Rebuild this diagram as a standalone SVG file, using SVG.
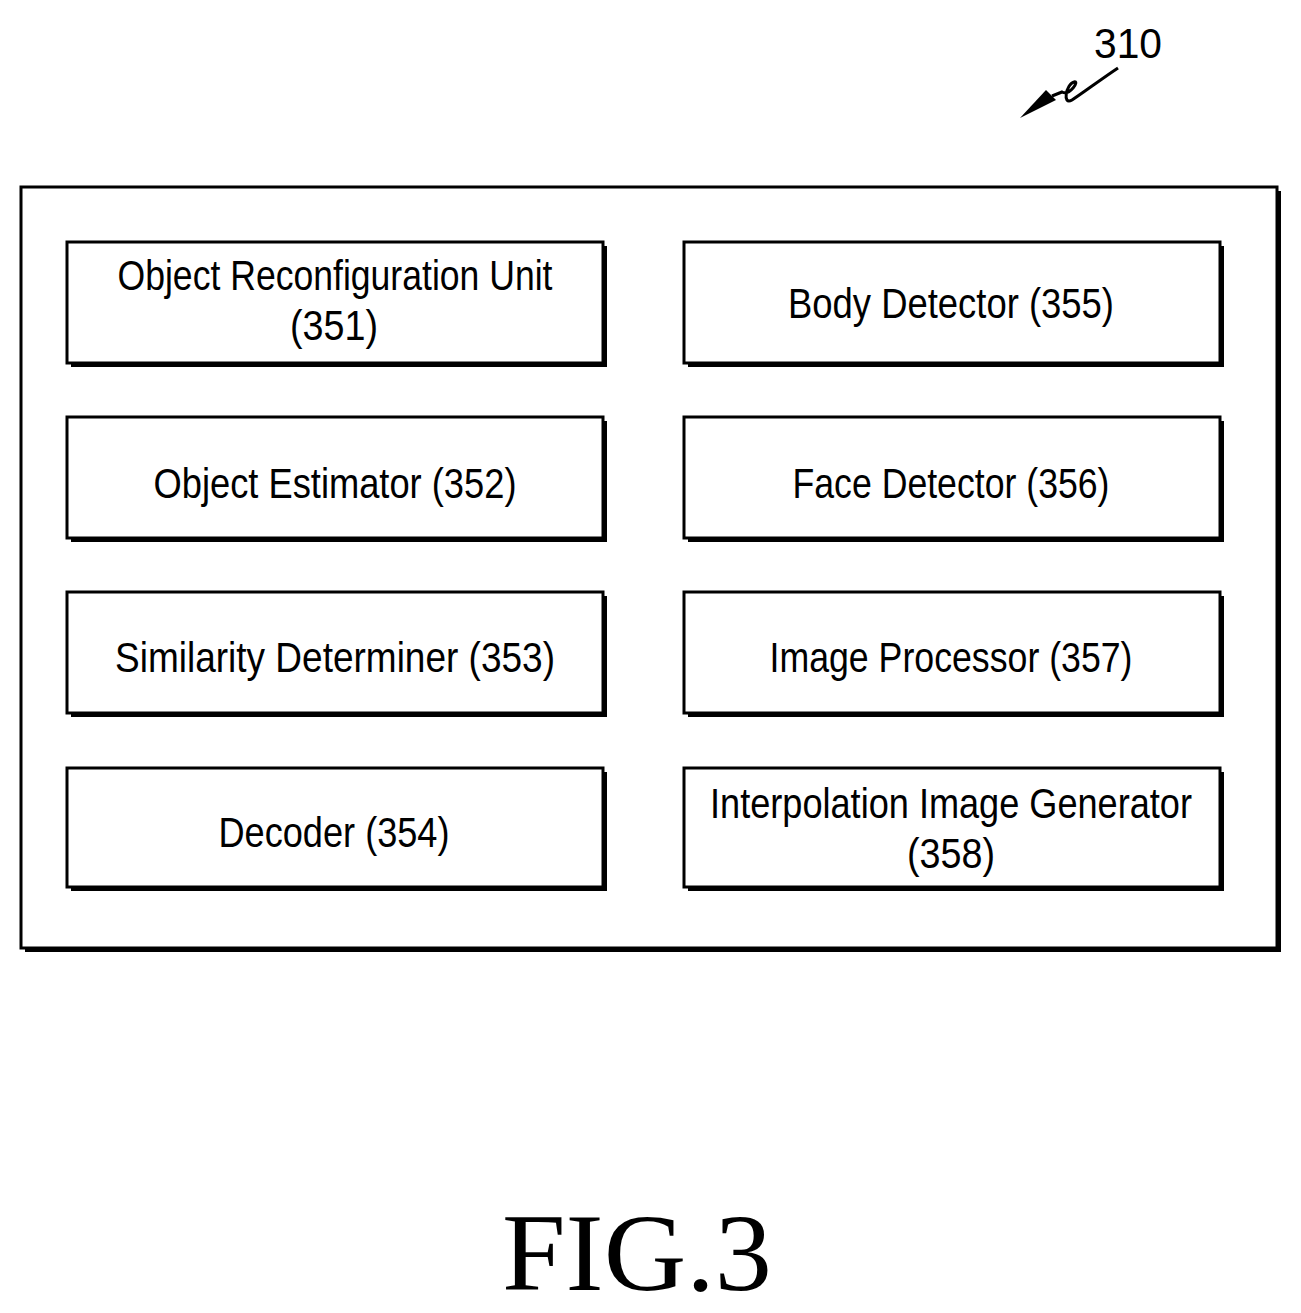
<svg xmlns="http://www.w3.org/2000/svg" width="1301" height="1313" viewBox="0 0 1301 1313">
<style>
.b{fill:#fff;stroke:#000;stroke-width:3}
.s{fill:#000}
.t{font-family:"Liberation Sans",Arial,sans-serif;font-size:42px;text-anchor:middle;fill:#000}
</style>
<rect width="1301" height="1313" fill="#fff"/>
<g id="ref310">
<text x="1128" y="58" class="t" textLength="68" lengthAdjust="spacingAndGlyphs">310</text>
<path d="M1118,68 C1100,80 1080,95 1072,100 C1062,106 1066,84 1074,82 C1080,80 1070,96 1062,92 L1052,96" fill="none" stroke="#000" stroke-width="3"/>
<polygon points="1020,118 1046,90 1056,100" fill="#000"/>
</g>
<g id="outer">
<rect x="25" y="191" width="1256" height="761" class="s"/>
<rect x="21" y="187" width="1256" height="761" class="b"/>
</g>
<g id="n351"><rect x="71" y="246" width="536" height="121" class="s"/><rect x="67" y="242" width="536" height="121" class="b"/>
<text x="335" y="290" class="t" textLength="435" lengthAdjust="spacingAndGlyphs">Object Reconfiguration Unit</text>
<text x="334" y="340" class="t" textLength="88" lengthAdjust="spacingAndGlyphs">(351)</text></g>
<g id="n352"><rect x="71" y="421" width="536" height="121" class="s"/><rect x="67" y="417" width="536" height="121" class="b"/>
<text x="335" y="498" class="t" textLength="363" lengthAdjust="spacingAndGlyphs">Object Estimator (352)</text></g>
<g id="n353"><rect x="71" y="596" width="536" height="121" class="s"/><rect x="67" y="592" width="536" height="121" class="b"/>
<text x="335" y="672" class="t" textLength="440" lengthAdjust="spacingAndGlyphs">Similarity Determiner (353)</text></g>
<g id="n354"><rect x="71" y="772" width="536" height="119" class="s"/><rect x="67" y="768" width="536" height="119" class="b"/>
<text x="334" y="847" class="t" textLength="231" lengthAdjust="spacingAndGlyphs">Decoder (354)</text></g>
<g id="n355"><rect x="688" y="246" width="536" height="121" class="s"/><rect x="684" y="242" width="536" height="121" class="b"/>
<text x="951" y="318" class="t" textLength="326" lengthAdjust="spacingAndGlyphs">Body Detector (355)</text></g>
<g id="n356"><rect x="688" y="421" width="536" height="121" class="s"/><rect x="684" y="417" width="536" height="121" class="b"/>
<text x="951" y="498" class="t" textLength="317" lengthAdjust="spacingAndGlyphs">Face Detector (356)</text></g>
<g id="n357"><rect x="688" y="596" width="536" height="121" class="s"/><rect x="684" y="592" width="536" height="121" class="b"/>
<text x="951" y="672" class="t" textLength="363" lengthAdjust="spacingAndGlyphs">Image Processor (357)</text></g>
<g id="n358"><rect x="688" y="772" width="536" height="119" class="s"/><rect x="684" y="768" width="536" height="119" class="b"/>
<text x="951" y="818" class="t" textLength="482" lengthAdjust="spacingAndGlyphs">Interpolation Image Generator</text>
<text x="951" y="868" class="t" textLength="88" lengthAdjust="spacingAndGlyphs">(358)</text></g>
<g id="connectors"/>
<text x="637" y="1290" font-family="Liberation Serif,serif" font-size="110" text-anchor="middle" textLength="270" lengthAdjust="spacingAndGlyphs">FIG.3</text>
</svg>
